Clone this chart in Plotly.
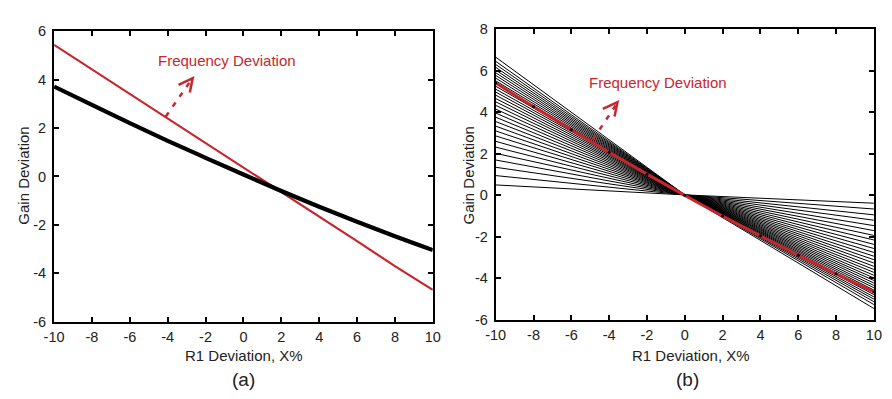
import plotly.graph_objects as go

W, H = 892, 399
RED = "#c8262e"
FONT = "Arial, Liberation Sans, sans-serif"

# ---------------- data ----------------
x_a = [-10, -8, -6, -4, -2, 0, 2, 4, 6, 8, 10]
black_a = [3.71, 2.95, 2.20, 1.47, 0.77, 0.08, -0.60, -1.25, -1.87, -2.47, -3.04]
red_a = [5.43, 4.42, 3.41, 2.39, 1.38, 0.37, -0.64, -1.66, -2.67, -3.70, -4.68]

x_b = [-10, 0, 10]
fam_left = [0.50, 0.95, 1.35, 1.70, 2.02, 2.32, 2.60, 2.86, 3.10, 3.33, 3.55,
            3.76, 3.96, 4.15, 4.33, 4.50, 4.66, 4.82, 4.97, 5.11, 5.25, 5.38,
            5.51, 5.64, 5.77, 5.90, 6.03, 6.16, 6.30, 6.45, 6.65]
fam_mid = [0.02] * len(fam_left)
fam_right = [-0.38, -0.66, -0.94, -1.20, -1.46, -1.70, -1.93, -2.15, -2.36,
             -2.56, -2.75, -2.93, -3.10, -3.26, -3.42, -3.57, -3.71, -3.85,
             -3.98, -4.10, -4.22, -4.34, -4.45, -4.56, -4.67, -4.78, -4.89,
             -5.00, -5.12, -5.26, -5.45]
x_rb = [-10, -8, -6, -4, -2, 0, 2, 4, 6, 8, 10]
red_b = [5.41, 4.27, 3.16, 2.07, 1.02, 0.0, -1.00, -1.95, -2.88, -3.78, -4.65]

xticks = [-10, -8, -6, -4, -2, 0, 2, 4, 6, 8, 10]
yticks_a = [-6, -4, -2, 0, 2, 4, 6]
yticks_b = [-6, -4, -2, 0, 2, 4, 6, 8]

# ---------------- figure ----------------
fig = go.Figure()

fig.add_trace(go.Scatter(x=x_a, y=red_a, mode="lines", line=dict(color=RED, width=2.2),
                         xaxis="x", yaxis="y", showlegend=False))
fig.add_trace(go.Scatter(x=x_a, y=black_a, mode="lines", line=dict(color="black", width=4.2, shape="spline"),
                         xaxis="x", yaxis="y", showlegend=False))

for L, M, R in zip(fam_left, fam_mid, fam_right):
    fig.add_trace(go.Scatter(x=x_b, y=[L, M, R], mode="lines", line=dict(color="black", width=1),
                             xaxis="x2", yaxis="y2", showlegend=False))
fig.add_trace(go.Scatter(x=x_rb, y=red_b, mode="lines+markers", line=dict(color=RED, width=3, shape="spline"),
                         marker=dict(color="black", size=3),
                         xaxis="x2", yaxis="y2", showlegend=False))

def px(x, y):
    return x / W, 1 - y / H

def lab(vals):
    return [str(v) for v in vals]

ax_common = dict(showline=True, linecolor="black", linewidth=2, mirror="ticks",
                 ticks="inside", ticklen=5, tickwidth=1.5, tickcolor="black",
                 showgrid=False, zeroline=False,
                 tickfont=dict(family=FONT, size=14.5, color="#222"))

xd_a = (45 / W, 431.5 / W)
xd_b = (495.7 / W, 881.7 / W)
yd_a = ((H - 327) / H, (H - 24) / H)
yd_b = ((H - 325) / H, (H - 22) / H)

fig.update_layout(
    width=W, height=H,
    margin=dict(l=0, r=0, t=0, b=0),
    paper_bgcolor="white", plot_bgcolor="white",
    xaxis=dict(domain=xd_a, range=[-10, 10], tickvals=xticks, ticktext=lab(xticks), anchor="y",
               ticklabelstandoff=1, **ax_common),
    yaxis=dict(domain=yd_a, range=[-6, 6], tickvals=yticks_a, ticktext=lab(yticks_a), anchor="x",
               ticklabelstandoff=3, **ax_common),
    xaxis2=dict(domain=xd_b, range=[-10, 10], tickvals=xticks, ticktext=lab(xticks), anchor="y2",
                ticklabelstandoff=1, **ax_common),
    yaxis2=dict(domain=yd_b, range=[-6, 8], tickvals=yticks_b, ticktext=lab(yticks_b), anchor="x2",
                ticklabelstandoff=3, **ax_common),
)

ann = []
def text(x, y, s, size=15, color="#222", angle=0):
    X, Y = px(x, y)
    ann.append(dict(x=X, y=Y, xref="paper", yref="paper", text=s, showarrow=False,
                    textangle=angle, xanchor="center", yanchor="middle",
                    font=dict(family=FONT, size=size, color=color)))

text(239, 362, "R1 Deviation, X%")
text(695, 362, "R1 Deviation, X%")
text(14, 175, "Gain Deviation", angle=-90)
text(468, 175, "Gain Deviation", angle=-90)
text(238, 387, "(a)", size=19)
text(691, 387, "(b)", size=19)
text(221, 55, "Frequency Deviation", color=RED)
text(661, 78, "Frequency Deviation", color=RED)

shapes = []
def path(points, dash="solid", width=2.5):
    pts = [px(x, y) for x, y in points]
    d = "M " + " L ".join(f"{a:.5f},{b:.5f}" for a, b in pts)
    shapes.append(dict(type="path", path=d, xref="paper", yref="paper",
                       line=dict(color=RED, width=width, dash=dash)))

# arrow (a)
path([(159, 113), (185, 75)], dash="5px,7px")
path([(172, 80), (186.5, 73), (183.5, 88)])
# arrow (b)
path([(595, 137), (619, 100)], dash="5px,7px")
path([(605, 105), (620, 98), (617, 113)])

fig.update_layout(annotations=ann, shapes=shapes)

fig.write_html("out.html")
